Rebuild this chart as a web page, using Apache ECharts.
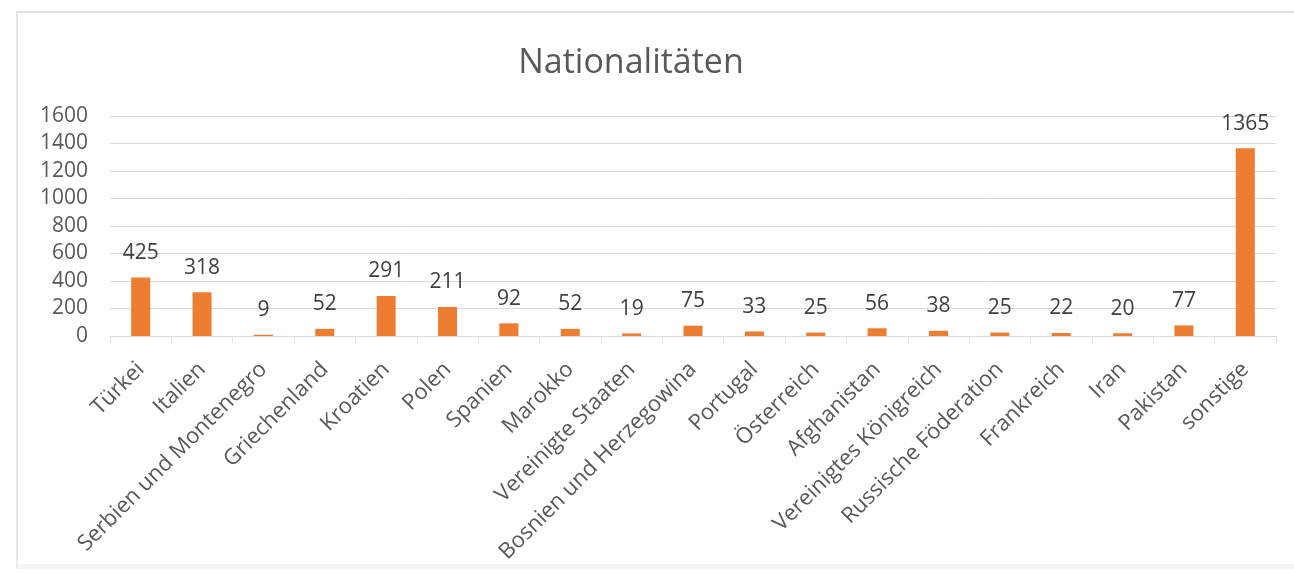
<!DOCTYPE html>
<html>
<head>
<meta charset="utf-8">
<script src="https://cdn.jsdelivr.net/npm/echarts@6/dist/echarts.min.js"></script>
<style>
  html, body { margin: 0; padding: 0; background: #fff; overflow: hidden; }
  #frame { position: absolute; left: 16px; top: 11px; width: 1300px; height: 558px; border-top: 2px solid #e3e3e3; border-left: 2px solid #e6e6e6; border-bottom: 5px solid #f5f5f5; box-sizing: border-box; }
  #chart { position: absolute; left: 0; top: 0; width: 1294px; height: 573px; }
</style>
</head>
<body>
<div id="frame"></div>
<div id="chart"></div>
<script>
// Kategorien (Nationalitäten)
var countries = ['Türkei', 'Italien', 'Serbien und Montenegro', 'Griechenland', 'Kroatien', 'Polen',
  'Spanien', 'Marokko', 'Vereinigte Staaten', 'Bosnien und Herzegowina', 'Portugal', 'Österreich',
  'Afghanistan', 'Vereinigtes Königreich', 'Russische Föderation', 'Frankreich', 'Iran', 'Pakistan', 'sonstige']
// Anzahl
var counts = [425, 318, 9, 52, 291, 211, 92, 52, 19, 75, 33, 25, 56, 38, 25, 22, 20, 77, 1365]
var yTicks = [0, 200, 400, 600, 800, 1000, 1200, 1400, 1600]

var chartDom = document.getElementById('chart')
var myChart = echarts.init(chartDom)
var option = {
  animation: false,
  textStyle: { fontFamily: 'Open Sans' },
  title: {
    text: 'Nationalitäten',
    left: 626,
    top: 41,
    textAlign: 'center',
    textStyle: { color: '#595959', fontSize: 34, fontWeight: 'normal', fontFamily: 'Open Sans' }
  },
  grid: { left: 110, right: 18, top: 116, bottom: 237 },
  xAxis: {
    type: 'category',
    data: countries,
    axisLine: { lineStyle: { color: '#d9d9d9' } },
    axisTick: { show: true, alignWithLabel: false, length: 7, lineStyle: { color: '#e3e3e3' } },
    axisLabel: { interval: 0, rotate: 45, color: '#595959', fontSize: 22, margin: 30 }
  },
  yAxis: {
    type: 'value',
    min: yTicks[0],
    max: yTicks[yTicks.length - 1],
    interval: 200,
    axisLine: { show: false },
    axisTick: { show: false },
    splitLine: { lineStyle: { color: '#d9d9d9' } },
    axisLabel: { color: '#595959', fontSize: 21, margin: 22, formatter: function(v) { return String(v) } }
  },
  series: [
    {
      name: 'Anzahl',
      type: 'bar',
      data: counts,
      barWidth: '31%',
      itemStyle: { color: '#ed7d31' },
      label: { show: true, position: 'top', distance: 14, color: '#404040', fontSize: 21 }
    }
  ]
}
myChart.setOption(option)
</script>
</body>
</html>
